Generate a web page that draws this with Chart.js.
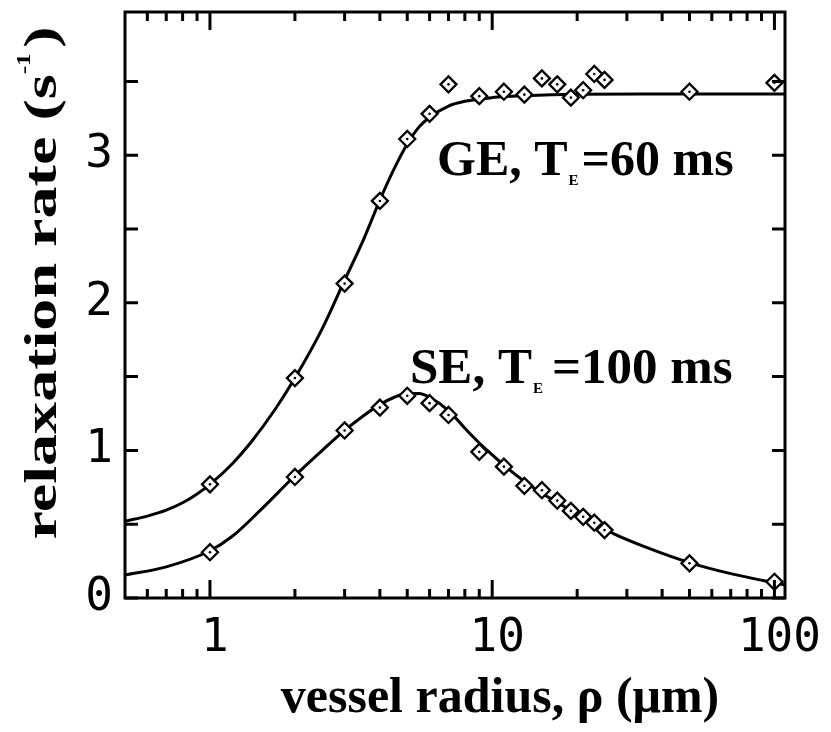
<!DOCTYPE html>
<html>
<head>
<meta charset="utf-8">
<script src="https://cdn.jsdelivr.net/npm/chart.js@4.4.1/dist/chart.umd.min.js"></script>
<style>
  body { margin: 0; background: #fff; }
  #wrap { width: 831px; height: 732px; position: relative; }
</style>
</head>
<body>
<div id="wrap"><canvas id="chart"></canvas></div>
<script>
// measured points (vessel radius in um, relaxation rate in 1/s)
const radiusPts = [1, 2, 3, 4, 5, 6, 7, 9, 11, 13, 15, 17, 19, 21, 23, 25, 50, 100];
const geRate = [0.77, 1.49, 2.13, 2.69, 3.11, 3.28, 3.48, 3.40, 3.43, 3.41, 3.52, 3.48, 3.39, 3.44, 3.55, 3.51, 3.43, 3.49];
const seRate = [0.31, 0.82, 1.135, 1.29, 1.37, 1.32, 1.24, 0.99, 0.89, 0.76, 0.73, 0.66, 0.59, 0.55, 0.51, 0.46, 0.235, 0.11];

// fitted curves
const geFitX = [0.5, 0.6, 0.7, 0.8, 0.9, 1, 1.2, 1.4, 1.7, 2, 2.5, 3, 3.5, 4, 4.5, 5, 5.5, 6, 7, 8, 10, 13, 20, 40, 109];
const geFitY = [0.52, 0.555, 0.595, 0.645, 0.705, 0.77, 0.91, 1.057, 1.277, 1.49, 1.825, 2.153, 2.428, 2.696, 2.91, 3.076, 3.19, 3.257, 3.333, 3.365, 3.39, 3.403, 3.413, 3.415, 3.415];
const seFitX = [0.5, 0.7, 1, 1.2, 1.5, 2, 2.5, 3, 3.5, 4, 4.5, 5, 5.5, 6, 7, 8, 9, 10, 11, 13, 15, 20, 27, 35, 50, 70, 109];
const seFitY = [0.156, 0.211, 0.32, 0.418, 0.59, 0.828, 1.0, 1.135, 1.235, 1.31, 1.36, 1.385, 1.385, 1.36, 1.27, 1.15, 1.05, 0.97, 0.9, 0.79, 0.71, 0.57, 0.435, 0.345, 0.24, 0.165, 0.088];

// axis ticks
const xTickValues = [0.6, 0.7, 0.8, 0.9, 1, 2, 3, 4, 5, 6, 7, 8, 9, 10, 20, 30, 40, 50, 60, 70, 80, 90, 100];
const xLabelValues = [1, 10, 100];
const yTickValues = [0, 0.5, 1, 1.5, 2, 2.5, 3, 3.5];
const yLabelValues = [0, 1, 2, 3];

const xTitle = 'vessel radius, \u03C1 (\u03BCm)';
const yTitle = 'relaxation rate (s';
const geLabel = ['GE, T', 'E', '=60 ms'];
const seLabel = ['SE, T', 'E', '=100 ms'];

function pts(xs, ys) {
  return xs.map((v, i) => ({ x: v, y: ys[i] }));
}

const serif = '"Liberation Serif", "Times New Roman", serif';

// frame with inward ticks on all four sides
const frameTicks = {
  id: 'frameTicks',
  afterDraw(chart) {
    const { ctx, chartArea: a, scales: { x, y } } = chart;
    ctx.save();
    ctx.strokeStyle = '#000';
    ctx.lineWidth = 3;
    ctx.strokeRect(a.left, a.top, a.right - a.left, a.bottom - a.top);
    ctx.beginPath();
    yTickValues.forEach(v => {
      const py = y.getPixelForValue(v);
      ctx.moveTo(a.left, py); ctx.lineTo(a.left + 13, py);
      ctx.moveTo(a.right, py); ctx.lineTo(a.right - 13, py);
    });
    xTickValues.forEach(v => {
      const px = x.getPixelForValue(v);
      const len = xLabelValues.includes(v) ? 18 : 9;
      ctx.moveTo(px, a.bottom); ctx.lineTo(px, a.bottom - len);
      ctx.moveTo(px, a.top); ctx.lineTo(px, a.top + len);
    });
    ctx.stroke();
    ctx.restore();
  }
};

function subText(ctx, parts, left, base, size, gap) {
  ctx.font = 'bold ' + size + 'px ' + serif;
  ctx.fillText(parts[0], left, base);
  let w = ctx.measureText(parts[0]).width;
  ctx.font = 'bold ' + Math.round(size * 0.3) + 'px ' + serif;
  ctx.fillText(parts[1], left + w + 1, base + 10);
  w += ctx.measureText(parts[1]).width + gap;
  ctx.font = 'bold ' + size + 'px ' + serif;
  ctx.fillText(parts[2], left + w, base);
}

const texts = {
  id: 'texts',
  afterDraw(chart) {
    const ctx = chart.ctx;
    ctx.save();
    ctx.fillStyle = '#000';
    ctx.textBaseline = 'alphabetic';

    // x title
    ctx.textAlign = 'center';
    ctx.font = 'bold 50px ' + serif;
    ctx.fillText(xTitle, 500, 712);

    // y title, stretched along its length
    ctx.textAlign = 'left';
    ctx.font = 'bold 46px ' + serif;
    const wMain = ctx.measureText(yTitle).width;
    ctx.font = 'bold 18px ' + serif;
    const wSup = ctx.measureText('-1').width;
    ctx.font = 'bold 46px ' + serif;
    const wClose = ctx.measureText(')').width;
    const total = wMain + wSup + 4 + wClose;
    ctx.translate(56, 283);
    ctx.rotate(-Math.PI / 2);
    ctx.scale(513 / total, 1);
    let pos = -total / 2;
    ctx.fillText(yTitle, pos, 0);
    pos += wMain;
    ctx.font = 'bold 18px ' + serif;
    ctx.fillText('-1', pos, -26);
    pos += wSup + 4;
    ctx.font = 'bold 46px ' + serif;
    ctx.fillText(')', pos, 0);
    ctx.setTransform(1, 0, 0, 1, 0, 0);

    // curve labels
    subText(ctx, geLabel, 437, 175, 50, 4);
    subText(ctx, seLabel, 410, 383, 51, 10);
    ctx.restore();
  }
};

const lineStyle = { borderColor: '#000', borderWidth: 3, pointRadius: 0, showLine: true, fill: false, cubicInterpolationMode: 'monotone' };
const markStyle = { pointStyle: 'rectRot', pointRadius: 8, pointBorderWidth: 2.3, pointBorderColor: '#000', pointBackgroundColor: '#fff', showLine: false };
const dotStyle = { pointStyle: 'circle', pointRadius: 1.3, pointBorderWidth: 0, pointBackgroundColor: '#000', showLine: false };

function noPad(s) {
  s.paddingTop = 0; s.paddingBottom = 0; s.paddingLeft = 0; s.paddingRight = 0;
}

new Chart(document.getElementById('chart'), {
  type: 'scatter',
  data: {
    datasets: [
      Object.assign({ label: 'GE fit', data: pts(geFitX, geFitY), order: 3 }, lineStyle),
      Object.assign({ label: 'SE fit', data: pts(seFitX, seFitY), order: 3 }, lineStyle),
      Object.assign({ label: 'GE', data: pts(radiusPts, geRate), order: 2 }, markStyle),
      Object.assign({ label: 'SE', data: pts(radiusPts, seRate), order: 2 }, markStyle),
      Object.assign({ label: 'GE dot', data: pts(radiusPts, geRate), order: 1 }, dotStyle),
      Object.assign({ label: 'SE dot', data: pts(radiusPts, seRate), order: 1 }, dotStyle)
    ]
  },
  options: {
    responsive: true,
    maintainAspectRatio: false,
    animation: false,
    layout: { padding: { top: 12, right: 46, bottom: 0, left: 0 } },
    plugins: { legend: { display: false }, tooltip: { enabled: false } },
    scales: {
      x: {
        type: 'logarithmic',
        min: 0.5,
        max: 109,
        grid: { display: false, drawTicks: false },
        border: { display: false },
        afterBuildTicks: s => { s.ticks = xLabelValues.map(v => ({ value: v })); },
        afterFit: s => { s.height = 134; noPad(s); },
        ticks: {
          autoSkip: false,
          maxRotation: 0,
          padding: 13,
          labelOffset: 5,
          color: '#000',
          font: { family: '"DejaVu Sans Mono", monospace', size: 46 },
          callback: v => String(v)
        }
      },
      y: {
        min: 0,
        max: 3.97,
        grid: { display: false, drawTicks: false },
        border: { display: false },
        afterBuildTicks: s => { s.ticks = yLabelValues.map(v => ({ value: v })); },
        afterFit: s => { s.width = 125; noPad(s); },
        ticks: {
          padding: 12,
          color: '#000',
          font: { family: '"DejaVu Sans Mono", monospace', size: 46 },
          callback: v => String(v)
        }
      }
    }
  },
  plugins: [frameTicks, texts]
});
</script>
</body>
</html>
